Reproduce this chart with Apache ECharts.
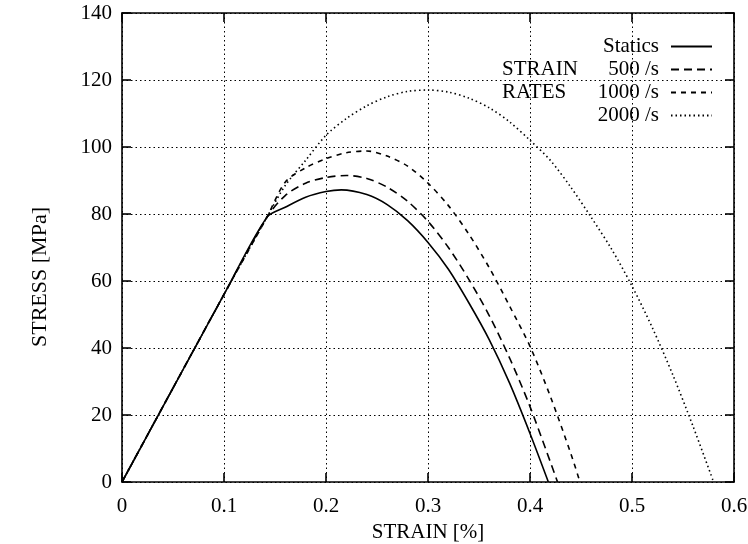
<!DOCTYPE html>
<html>
<head>
<meta charset="utf-8">
<script src="https://cdn.jsdelivr.net/npm/echarts@6/dist/echarts.min.js"></script>
<style>
html,body{margin:0;padding:0;background:#fff;}
#chart{width:748px;height:544px;}
</style>
</head>
<body>
<div id="chart"></div>
<script>
// ---- data (strain %, stress MPa) ----
const xTicks = [0, 0.1, 0.2, 0.3, 0.4, 0.5, 0.6];
const yTicks = [0, 20, 40, 60, 80, 100, 120, 140];
const seriesNames = ['Statics', '500 /s', '1000 /s', '2000 /s'];
const elasticPart = [[0, 0], [0.1, 56], [0.142, 79]];
const staticsData = [[0.16, 82], [0.18, 85], [0.2, 86.7], [0.215, 87.2], [0.24, 85.8], [0.26, 82.8], [0.28, 78], [0.3, 71.5], [0.32, 63.5], [0.34, 53.5], [0.36, 42.5], [0.38, 29.5], [0.4, 14.5], [0.418, 0]];
const rate500Data = [[0.16, 85.5], [0.18, 89.2], [0.2, 90.9], [0.22, 91.5], [0.24, 90.6], [0.26, 88], [0.28, 83.8], [0.3, 77.8], [0.32, 70], [0.34, 60.5], [0.36, 49.7], [0.38, 37], [0.4, 22.5], [0.427, 0]];
const rate1000Data = [[0.16, 89.5], [0.18, 93.8], [0.2, 96.5], [0.22, 98.3], [0.24, 98.8], [0.26, 97.3], [0.28, 94.3], [0.3, 89.2], [0.32, 82.5], [0.34, 74], [0.36, 64], [0.38, 52.5], [0.4, 40.5], [0.42, 25.5], [0.44, 8.5], [0.449, 0]];
const rate2000Data = [[0.16, 88.5], [0.18, 96], [0.2, 103.5], [0.22, 108.5], [0.24, 112.3], [0.26, 115], [0.28, 116.6], [0.3, 117], [0.32, 116.4], [0.34, 114.6], [0.36, 111.7], [0.38, 107.5], [0.4, 102], [0.42, 96], [0.44, 88], [0.46, 79], [0.48, 69.5], [0.5, 58.5], [0.52, 46], [0.54, 32], [0.56, 16.5], [0.58, 0]];

const FONT = 'Liberation Serif';
const FS = 21;
const chart = echarts.init(document.getElementById('chart'), null, {renderer: 'canvas'});

function mkAxisCommon(showLabels, showSplit, margin) {
  return {
    axisLine: {show: true, onZero: false, lineStyle: {color: '#000', width: 1.6}},
    axisTick: {show: true, inside: true, length: 9, lineStyle: {color: '#000', width: 1.6}},
    axisLabel: {show: showLabels, color: '#000', fontFamily: FONT, fontSize: FS, margin: margin},
    splitLine: {show: showSplit, lineStyle: {color: '#000', width: 1, type: [1.5, 3]}},
    minorTick: {show: false}
  };
}

const xMin = xTicks[0], xMax = xTicks[xTicks.length - 1], xInt = xTicks[1] - xTicks[0];
const yMin = yTicks[0], yMax = yTicks[yTicks.length - 1], yInt = yTicks[1] - yTicks[0];

const styles = [
  {type: 'solid', width: 1.6},
  {type: [8, 5], width: 1.6},
  {type: [5, 5], width: 1.6},
  {type: [1.5, 3], width: 1.6}
];
const dataSets = [staticsData, rate500Data, rate1000Data, rate2000Data];

const option = {
  backgroundColor: '#fff',
  animation: false,
  grid: {left: 122, right: 14, top: 13, bottom: 62, containLabel: false, outerBoundsMode: 'none'},
  legend: {
    orient: 'vertical',
    right: 35,
    top: 36,
    padding: 0,
    align: 'right',
    itemWidth: 41,
    itemHeight: 14,
    itemGap: 2,
    selectedMode: false,
    itemStyle: {opacity: 0},
    textStyle: {fontFamily: FONT, fontSize: FS, lineHeight: 21, color: '#000', padding: [0, 7, 0, 0]},
    data: seriesNames
  },
  graphic: [
    {type: 'text', left: 502, top: 59, style: {text: 'STRAIN', fontFamily: FONT, fontSize: FS, fill: '#000'}},
    {type: 'text', left: 502, top: 82, style: {text: 'RATES', fontFamily: FONT, fontSize: FS, fill: '#000'}},
    {type: 'text', x: 40, y: 277, rotation: Math.PI / 2,
     style: {text: 'STRESS [MPa]', fontFamily: FONT, fontSize: 22, fill: '#000', align: 'center', verticalAlign: 'middle'}}
  ],
  xAxis: [
    Object.assign({
      type: 'value', position: 'bottom', min: xMin, max: xMax, interval: xInt,
      name: 'STRAIN [%]', nameLocation: 'middle', nameGap: 33,
      nameTextStyle: {fontFamily: FONT, fontSize: FS, color: '#000'}
    }, mkAxisCommon(true, true, 14)),
    Object.assign({type: 'value', position: 'top', min: xMin, max: xMax, interval: xInt}, mkAxisCommon(false, false, 8))
  ],
  yAxis: [
    Object.assign({
      type: 'value', position: 'left', min: yMin, max: yMax, interval: yInt
    }, mkAxisCommon(true, true, 10)),
    Object.assign({type: 'value', position: 'right', min: yMin, max: yMax, interval: yInt}, mkAxisCommon(false, false, 8))
  ],
  series: seriesNames.map((name, i) => ({
    name: name,
    type: 'line',
    xAxisIndex: 0,
    yAxisIndex: 0,
    data: elasticPart.concat(dataSets[i]),
    symbol: 'none',
    smooth: 0.3,
    lineStyle: Object.assign({color: '#000'}, styles[i]),
    itemStyle: {color: '#000'},
    z: 5 - i
  }))
};
chart.setOption(option);
</script>
</body>
</html>
